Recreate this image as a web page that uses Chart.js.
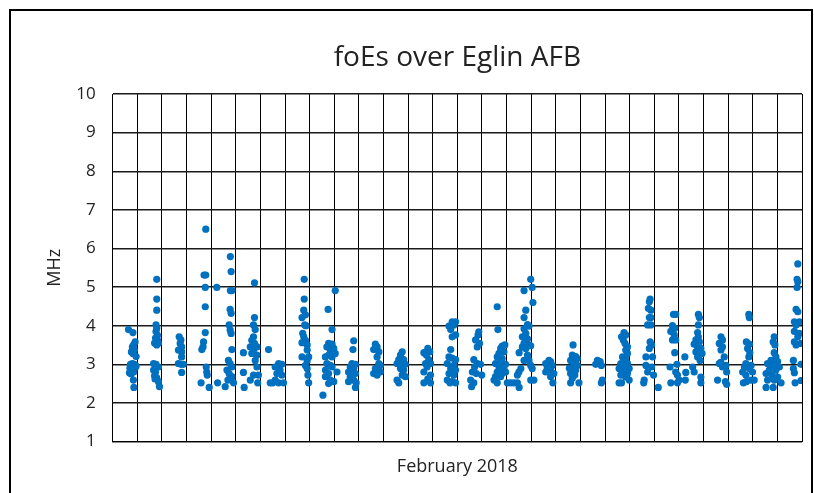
<!DOCTYPE html>
<html>
<head>
<meta charset="utf-8">
<title>foEs over Eglin AFB</title>
<script src="https://cdn.jsdelivr.net/npm/chart.js@4.4.1/dist/chart.umd.min.js"></script>
<style>
html, body { margin: 0; padding: 0; background: #fff; }
</style>
</head>
<body>
<canvas id="graph1" width="814" height="493"></canvas>
<script>
// textes du graphique
const titreGraph = 'foEs over Eglin AFB';
const titreX = 'February 2018';
const titreY = 'MHz';

// bornes des axes : jours du mois (0 a 28) et MHz (1 a 10)
const joursMin = 0, joursMax = 28;
const mhzMin = 1, mhzMax = 10;

// jour (fraction de jour) et foEs (MHz), un groupe par nuit
const jours = [
    0.64, 0.82, 0.91, 0.85, 0.80, 0.88, 0.76, 0.95, 0.82, 0.72, 0.80, 0.88, 0.95, 0.70, 0.78, 0.85, 0.92, 0.68, 0.75, 0.85, 0.84, 0.86,
    1.79, 1.79, 1.79, 1.76, 1.79, 1.76, 1.82, 1.74, 1.82, 1.70, 1.79, 1.86, 1.66, 1.76, 1.86, 1.66, 1.74, 1.70, 1.79, 1.86, 1.90, 1.72,
    2.70, 2.77, 2.74, 2.80, 2.67, 2.80, 2.80, 2.67, 2.77, 2.87, 2.80,
    3.78, 3.71, 3.78, 3.76, 4.23, 3.76, 3.76, 3.69, 3.67, 3.62, 3.80, 3.82, 3.84, 3.59, 3.92, 4.26,
    4.78, 4.81, 4.78, 4.84, 4.77, 4.81, 4.73, 4.77, 4.81, 4.84, 4.70, 4.77, 4.84, 4.64, 4.73, 4.84, 4.68, 4.91, 4.57, 4.75, 5.31, 5.31, 5.34,
    5.76, 5.76, 5.72, 5.79, 5.72, 5.65, 5.76, 5.59, 5.86, 5.72, 5.65, 5.86, 5.79, 5.86, 5.72, 5.92, 5.59, 5.89, 6.33,
    6.74, 6.87, 6.60, 6.80, 6.67, 6.87, 6.60, 6.74, 6.40, 6.94, 6.50,
    7.78, 7.78, 7.76, 7.83, 7.69, 7.80, 7.85, 7.72, 7.76, 7.83, 7.90, 7.69, 7.90, 7.69, 7.96, 7.90, 7.83, 7.90, 7.93, 7.96,
    9.04, 8.75, 8.91, 8.77, 8.91, 8.70, 8.84, 8.98, 8.64, 8.77, 8.91, 9.04, 8.70, 8.84, 8.91, 8.64, 8.77, 9.11, 8.64, 8.84, 8.98, 8.77, 8.54,
    9.79, 9.76, 9.72, 9.86, 9.65, 9.79, 9.58, 9.86, 9.65, 9.79, 9.58, 9.89, 9.86,
    10.67, 10.74, 10.60, 10.81, 10.74, 10.81, 10.87, 10.67, 10.87, 10.60, 10.74,
    11.76, 11.69, 11.62, 11.82, 11.55, 11.76, 11.89, 11.69, 11.82, 11.76, 11.89, 11.55, 11.62,
    12.80, 12.88, 12.64, 12.74, 12.84, 12.71, 12.91, 12.77, 12.64, 12.91, 12.64, 12.91, 12.80,
    13.79, 13.86, 13.66, 13.73, 13.79, 13.93, 13.93, 13.73, 13.66, 13.79, 13.93, 13.59, 13.86, 13.73, 13.93, 13.66, 13.86, 13.59, 13.79, 13.93, 13.70,
    14.87, 14.84, 14.74, 14.90, 14.81, 14.67, 14.81, 14.70, 14.94, 14.61, 14.77, 14.99, 14.54, 14.67, 14.58,
    15.62, 15.65, 15.82, 15.93, 15.76, 15.69, 15.89, 15.62, 15.82, 15.76, 15.55, 15.96, 15.69, 15.89, 15.62, 15.82, 15.96, 15.55, 15.76, 15.49, 15.62,
    16.03, 16.17, 16.30, 16.44, 16.51, 16.44, 16.58, 16.50,
    16.71, 16.98, 17.04, 17.07, 16.78, 16.71, 16.85, 16.71, 16.91, 16.78, 16.64, 16.85, 16.71, 16.91, 16.64, 16.78, 16.51, 16.98, 16.85, 16.71, 16.91, 16.98, 17.04, 17.11, 16.98,
    17.72, 17.79, 17.59, 17.85, 17.65, 17.79, 17.59, 17.92, 17.79, 17.88,
    18.70, 18.67, 18.81, 18.87, 18.60, 18.74, 18.87, 18.67, 18.81, 18.60, 18.77, 18.67, 18.94, 18.60, 18.55,
    19.69, 19.80, 19.62, 19.85, 19.89, 19.85,
    20.77, 20.84, 20.67, 20.74, 20.81, 20.91, 20.84, 20.91, 20.71, 20.84, 20.64, 20.91, 20.77, 20.57, 20.98, 20.71, 20.91, 20.64, 20.84, 20.98, 20.57, 20.67,
    21.83, 21.80, 21.76, 21.86, 21.80, 21.86, 21.73, 21.86, 21.83, 21.89, 21.80, 21.66, 21.93, 21.66, 21.89, 21.73, 21.97, 21.59, 21.57, 22.16,
    22.78, 22.87, 22.74, 22.83, 22.67, 22.81, 22.74, 22.87, 22.83, 23.24, 22.92, 22.64, 22.87, 22.94, 23.28, 22.67, 22.94, 23.01, 23.26,
    23.79, 23.83, 23.79, 23.76, 23.79, 23.69, 23.83, 23.62, 23.76, 23.89, 23.69, 23.83, 23.94, 23.76, 23.86, 23.56, 23.62, 23.89, 23.89,
    24.71, 24.77, 24.64, 24.77, 24.71, 24.84, 24.64, 24.91, 24.77, 24.94, 24.57, 24.89, 24.94, 24.70,
    25.84, 25.86, 25.74, 25.86, 25.79, 25.88, 25.84, 25.72, 25.93, 25.66, 25.86, 25.59, 25.99, 25.72, 25.93, 25.62, 25.74, 26.06,
    26.87, 26.83, 26.90, 26.87, 26.94, 26.74, 27.01, 26.60, 26.83, 27.08, 26.67, 26.94, 26.54, 26.78, 27.01, 26.60, 26.87, 27.15, 26.54, 26.83,
    27.83, 27.80, 27.83, 27.80, 27.76, 27.83, 27.69, 27.89, 27.76, 27.69, 27.89, 27.83, 27.69, 27.96, 27.76, 27.65, 27.96, 27.65, 27.69, 27.96, 27.72
];
const foEs = [
    3.90, 3.82, 3.58, 3.50, 3.45, 3.37, 3.32, 3.20, 3.28, 3.00, 3.02, 3.00, 2.95, 2.90, 2.88, 2.85, 2.92, 2.78, 2.75, 2.80, 2.59, 2.40,
    5.20, 4.69, 4.40, 4.02, 3.93, 3.85, 3.75, 3.68, 3.62, 3.55, 3.50, 3.55, 3.02, 3.00, 2.93, 2.85, 2.80, 2.70, 2.65, 2.55, 2.42, 2.62,
    3.71, 3.63, 3.54, 3.45, 3.37, 3.32, 3.19, 3.02, 3.00, 3.00, 2.79,
    6.50, 5.31, 5.31, 4.99, 4.99, 4.49, 3.82, 3.58, 3.45, 3.38, 2.93, 2.80, 2.72, 2.52, 2.40, 2.52,
    5.79, 5.40, 4.91, 4.91, 4.42, 4.32, 4.02, 3.89, 3.80, 3.38, 3.10, 3.02, 2.93, 2.85, 2.76, 2.68, 2.59, 2.52, 2.42, 2.62, 3.30, 2.79, 2.40,
    5.11, 4.21, 4.02, 3.90, 3.71, 3.62, 3.54, 3.45, 3.45, 3.37, 3.28, 3.24, 3.10, 2.93, 2.72, 2.72, 2.59, 2.52, 3.38,
    3.02, 3.00, 2.93, 2.85, 2.76, 2.72, 2.59, 2.52, 2.52, 2.52, 2.52,
    5.20, 4.69, 4.40, 4.28, 4.21, 4.02, 4.00, 3.80, 3.71, 3.62, 3.50, 3.56, 3.37, 3.19, 3.19, 3.10, 2.97, 2.89, 2.72, 2.52,
    4.91, 4.42, 3.90, 3.54, 3.52, 3.45, 3.37, 3.41, 3.19, 3.24, 3.19, 3.28, 3.02, 2.97, 2.93, 2.85, 2.76, 2.80, 2.68, 2.59, 2.55, 2.50, 2.20,
    3.61, 3.38, 3.02, 3.00, 2.93, 2.89, 2.80, 2.76, 2.68, 2.59, 2.55, 2.52, 2.40,
    3.52, 3.45, 3.38, 3.32, 3.19, 3.02, 2.97, 2.89, 2.80, 2.76, 2.72,
    3.32, 3.24, 3.12, 3.12, 3.02, 3.02, 3.00, 2.89, 2.85, 2.72, 2.68, 2.59, 2.52,
    3.41, 3.32, 3.30, 3.24, 3.12, 3.02, 3.02, 2.93, 2.80, 2.72, 2.52, 2.52, 2.62,
    4.10, 4.02, 3.99, 3.90, 3.71, 4.10, 3.76, 3.38, 3.19, 3.16, 3.12, 3.02, 2.97, 2.89, 2.85, 2.76, 2.72, 2.59, 2.55, 2.52, 2.52,
    3.84, 3.76, 3.63, 3.54, 3.45, 3.12, 3.02, 2.93, 3.00, 2.80, 2.76, 2.72, 2.59, 2.52, 2.42,
    4.49, 3.90, 3.47, 3.50, 3.41, 3.28, 3.32, 3.19, 3.15, 3.07, 3.02, 3.00, 2.93, 2.89, 2.80, 2.76, 2.80, 2.68, 2.68, 2.59, 2.52,
    2.52, 2.52, 2.52, 2.52, 2.40, 2.72, 2.89, 2.80,
    4.91, 5.20, 4.99, 4.60, 4.40, 4.21, 4.03, 3.92, 3.99, 3.80, 3.71, 3.66, 3.54, 3.50, 3.45, 3.41, 3.30, 3.48, 3.24, 3.10, 3.10, 2.97, 2.89, 2.59, 2.59,
    3.10, 3.07, 3.02, 2.97, 2.89, 2.85, 2.80, 2.76, 2.68, 2.52,
    3.50, 3.24, 3.20, 3.15, 3.10, 3.02, 2.97, 2.89, 2.85, 2.76, 2.72, 2.64, 2.52, 2.52, 2.90,
    3.10, 3.07, 3.00, 2.97, 2.59, 2.52,
    3.82, 3.76, 3.71, 3.63, 3.54, 3.45, 3.37, 3.28, 3.19, 3.12, 3.02, 3.02, 2.93, 2.89, 2.89, 2.80, 2.76, 2.72, 2.67, 2.59, 2.52, 2.52,
    4.69, 4.62, 4.45, 4.40, 4.21, 4.21, 4.02, 4.02, 3.58, 3.50, 3.41, 3.19, 3.19, 2.97, 2.93, 2.80, 2.72, 2.59, 2.52, 2.40,
    4.29, 4.29, 4.00, 3.93, 3.85, 3.76, 3.63, 3.63, 3.30, 3.19, 3.00, 2.93, 2.80, 2.72, 2.79, 2.52, 2.52, 2.59, 2.59,
    4.29, 4.21, 4.02, 3.82, 3.71, 3.63, 3.58, 3.52, 3.45, 3.41, 3.32, 3.28, 3.28, 3.19, 3.10, 2.93, 2.80, 2.67, 2.52,
    3.71, 3.63, 3.54, 3.45, 3.37, 3.19, 3.02, 2.97, 2.93, 2.80, 2.59, 2.55, 2.48, 3.05,
    4.29, 4.21, 3.58, 3.52, 3.41, 3.30, 3.19, 3.02, 2.97, 2.93, 2.89, 2.80, 2.80, 2.72, 2.59, 2.52, 2.55, 2.59,
    3.71, 3.58, 3.50, 3.30, 3.19, 3.10, 3.07, 3.02, 2.97, 2.93, 2.85, 2.85, 2.76, 2.72, 2.67, 2.59, 2.59, 2.52, 2.40, 2.40,
    5.60, 5.20, 5.14, 4.99, 4.42, 4.36, 4.10, 4.10, 4.02, 3.85, 3.80, 3.71, 3.58, 3.54, 3.50, 3.10, 3.00, 2.89, 2.78, 2.58, 2.52
];

const listePoints = [];
for (let i = 0; i < jours.length; i++) {
    listePoints.push({ x: jours[i], y: foEs[i] });
}

// cadre noir autour du graphique
const cadre = {
    id: 'cadre',
    beforeDraw(chart) {
        const c = chart.ctx;
        c.save();
        c.fillStyle = '#fff';
        c.fillRect(0, 0, chart.width, chart.height);
        c.strokeStyle = '#000';
        c.lineWidth = 2;
        c.strokeRect(10, 10, 802, 520);
        c.restore();
    }
};

// titre centre sur la zone de trace (comme Excel)
const titre = {
    id: 'titre',
    afterDraw(chart) {
        const c = chart.ctx, a = chart.chartArea;
        c.save();
        c.font = '28px "Open Sans"';
        c.fillStyle = '#222';
        c.textAlign = 'center';
        c.textBaseline = 'middle';
        c.fillText(titreGraph, (a.left + a.right) / 2, 58);
        c.restore();
    }
};

var ctx = document.getElementById('graph1').getContext('2d');
var data = {
    datasets: [{
        label: titreY,
        data: listePoints,
        backgroundColor: '#0070C0',
        borderWidth: 0,
        pointRadius: 3.6,
        pointHoverRadius: 3.6
    }]
};
var options = {
    responsive: false,
    animation: false,
    layout: { padding: { top: 94, left: 10, right: 12, bottom: 0 } },
    plugins: {
        legend: { display: false },
        tooltip: { enabled: false }
    },
    scales: {
        x: {
            type: 'linear',
            min: joursMin,
            max: joursMax,
            afterFit: function (s) { s.height = 51.5; },
            ticks: { stepSize: 1, display: false },
            grid: { color: '#000', lineWidth: 1, drawTicks: false },
            border: { color: '#000', width: 1 },
            title: {
                display: true,
                text: titreX,
                color: '#222',
                font: { family: '"Open Sans"', size: 18 },
                padding: { top: 0, bottom: 15 }
            }
        },
        y: {
            min: mhzMin,
            max: mhzMax,
            afterFit: function (s) { s.width = 102.7; },
            ticks: {
                stepSize: 1,
                color: '#222',
                padding: 17,
                font: { family: '"Open Sans"', size: 17 }
            },
            grid: { color: '#1a1a1a', lineWidth: 1.4, drawTicks: false },
            border: { color: '#000', width: 1 },
            title: {
                display: true,
                text: titreY,
                color: '#222',
                font: { family: '"Open Sans"', size: 18 },
                padding: { top: 34, bottom: 0 }
            }
        }
    }
};

var config = {
    type: 'scatter',
    data: data,
    options: options,
    plugins: [cadre, titre]
};
var graph1 = new Chart(ctx, config);
</script>
</body>
</html>
